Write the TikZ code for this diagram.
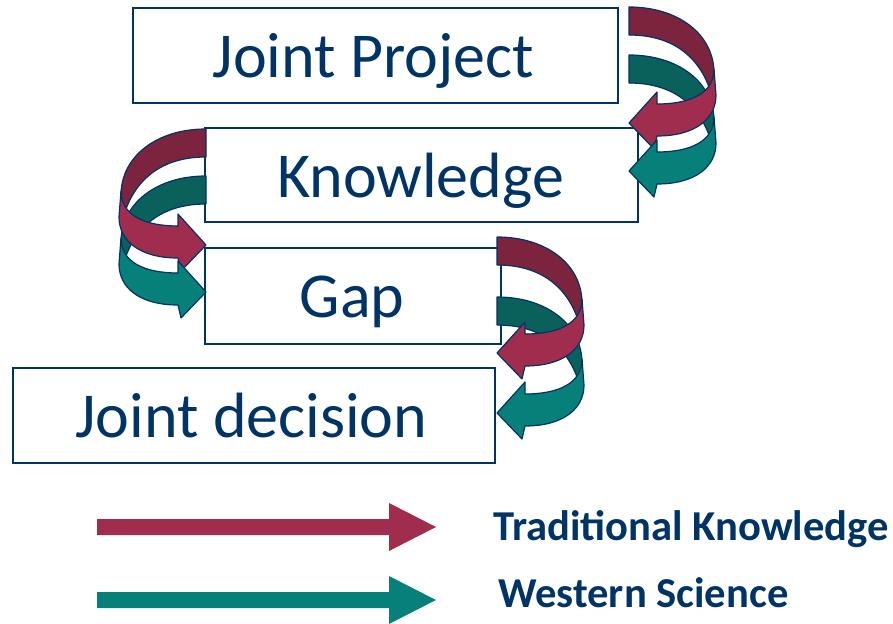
\documentclass[tikz,border=0pt]{standalone}
\usepackage{fontspec}
\setmainfont{Carlito}
\definecolor{navy}{RGB}{0,51,102}
\definecolor{tkfront}{RGB}{160,45,78}
\definecolor{tkback}{RGB}{124,36,62}
\definecolor{wsfront}{RGB}{6,128,120}
\definecolor{wsback}{RGB}{10,96,90}
\begin{document}
\begin{tikzpicture}[x=1pt,y=-1pt,
  box/.style={draw=navy, line width=2pt, fill=white, inner sep=0pt, anchor=north west, rectangle},
  boxtext/.style={font=\fontsize{64}{70}\selectfont, text=navy, anchor=base, inner sep=0pt},
  legtext/.style={font=\bfseries\fontsize{42.6}{48}\selectfont, text=navy, anchor=base west, inner sep=0pt},
  bandline/.style={draw=navy, line width=1.2pt, line join=round},
  pics/backband/.style={code={
    \filldraw[bandline, fill=#1] (0,0) .. controls (50,0) and (85,28) .. (85,66)
      -- (84,82) -- (80,80) .. controls (68,48) and (42,28) .. (0,28) -- cycle;
  }},
  pics/frontband/.style={code={
    \filldraw[bandline, fill=#1] (85,62) .. controls (85,86) and (62,97) .. (28,97)
      -- (28,85) -- (0,116) -- (25,142) -- (28,129)
      .. controls (66,129) and (87,112) .. (87,88) -- cycle;
  }}]
\useasboundingbox (0,0) rectangle (893,623);

% boxes
\node[box, minimum width=485pt, minimum height=95pt] (jpbox) at (132,7) {};
\node[box, minimum width=433pt, minimum height=94pt] (knbox) at (204,127) {};
\node[box, minimum width=296pt, minimum height=96pt] (gpbox) at (204,247) {};
\node[box, minimum width=482pt, minimum height=95pt] (jdbox) at (12,367) {};

\node[boxtext] (jptext) at (373.5,78) {Joint Project};
\node[boxtext] (kntext) at (420.5,197) {Knowledge};
\node[boxtext] (gptext) at (352,317) {Gap};
\node[boxtext] (jdtext) at (251.5,437) {Joint decision};

% Joint Project -> Knowledge (right side)
\pic at (629,7) {backband=tkback};
\pic at (629,55) {backband=wsback};
\pic at (629,7) {frontband=tkfront};
\pic at (629,55) {frontband=wsfront};

% Knowledge -> Gap (left side)
\pic[xscale=-1] at (206,129) {backband=tkback};
\pic[xscale=-1] at (206,176) {backband=wsback};
\pic[xscale=-1] at (206,129) {frontband=tkfront};
\pic[xscale=-1] at (206,176) {frontband=wsfront};

% Gap -> Joint decision (right side)
\pic at (497,237) {backband=tkback};
\pic at (497,297) {backband=wsback};
\pic at (497,237) {frontband=tkfront};
\pic at (497,297) {frontband=wsfront};

% legend
\fill[tkfront] (97,519) -- (389,519) -- (389,503) -- (436,527) -- (389,551) -- (389,535) -- (97,535) -- cycle;
\fill[wsfront] (97,592) -- (389,592) -- (389,576) -- (436,600) -- (389,624) -- (389,608) -- (97,608) -- cycle;
\node[legtext] (tklabel) at (493,540) {Traditional Knowledge};
\node[legtext] (wslabel) at (498,607) {Western Science};
\end{tikzpicture}
\end{document}
